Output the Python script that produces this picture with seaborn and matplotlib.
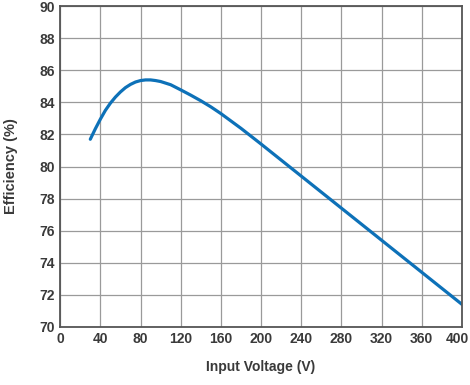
import pandas as pd
import matplotlib.pyplot as plt
import matplotlib.transforms as mtransforms
import seaborn as sns

# Efficiency vs input voltage
voltage = [30, 35, 40, 45, 50, 55, 60, 65, 70, 75, 80, 85, 90, 95, 100,
           110, 120, 130, 140, 150, 160, 180, 200, 220, 240, 260, 280,
           300, 320, 340, 360, 380, 400]
efficiency = [81.7, 82.35, 82.95, 83.5, 83.95, 84.33, 84.65, 84.92, 85.12,
              85.27, 85.36, 85.4, 85.4, 85.36, 85.3, 85.1, 84.78, 84.45,
              84.1, 83.72, 83.3, 82.38, 81.4, 80.4, 79.4, 78.4, 77.4,
              76.4, 75.4, 74.4, 73.4, 72.4, 71.4]
x_ticks = list(range(0, 401, 40))
y_ticks = list(range(70, 91, 2))


def main():
    sns.set_style('white')
    plt.rcParams['font.family'] = ['Liberation Sans', 'DejaVu Sans']

    df = pd.DataFrame({'voltage': voltage, 'efficiency': efficiency})

    fig = plt.figure(figsize=(4.7, 3.85), dpi=100)
    ax = fig.add_axes([0.128, 0.151, 0.855, 0.833])

    sns.lineplot(data=df, x='voltage', y='efficiency', ax=ax,
                 color='#0d71b8', linewidth=2.3)

    ax.set_xlim(0, 400)
    ax.set_ylim(70, 90)
    ax.set_xticks(x_ticks)
    ax.set_yticks(y_ticks)
    ax.grid(True, color='#9a9a9a', linewidth=0.9)
    ax.set_axisbelow(True)
    for side in ax.spines.values():
        side.set_color('#555555')
        side.set_linewidth(1.3)
    ax.tick_params(length=0, pad=4, labelsize=10, labelcolor='#3a3a3a')
    for lbl in ax.get_xticklabels() + ax.get_yticklabels():
        lbl.set_fontweight('bold')

    # last tick label sits on the figure edge, nudge it left a little
    last = ax.get_xticklabels()[-1]
    shift = mtransforms.ScaledTranslation(-0.045, 0, fig.dpi_scale_trans)
    last.set_transform(last.get_transform() + shift)

    ax.set_xlabel('Input Voltage (V)', fontsize=10, fontweight='bold',
                  color='#3a3a3a', labelpad=10)
    ax.set_ylabel('Efficiency (%)', fontsize=10.5, fontweight='bold',
                  color='#3a3a3a', labelpad=15)

    fig.savefig('out.png', dpi=100)


if __name__ == "__main__":
    main()
